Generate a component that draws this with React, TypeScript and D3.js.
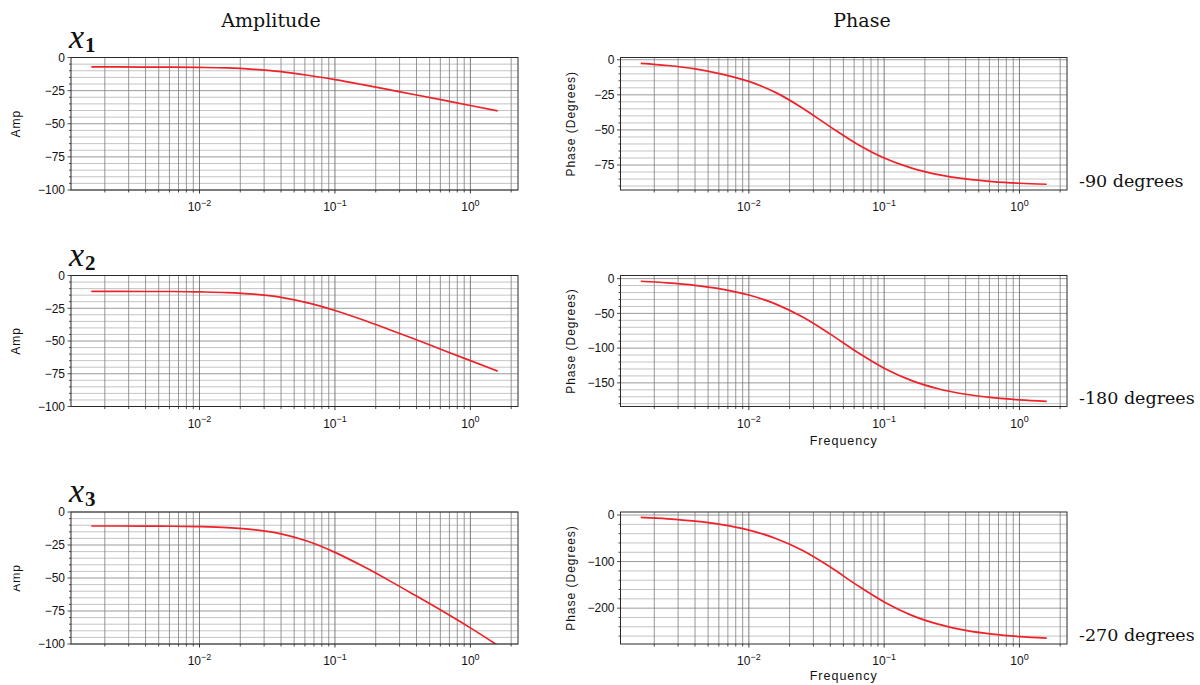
import React from "react";
import * as d3 from "d3";

// ---- data (frequency in Hz) ----
const FREQ = [0.00159, 0.0025, 0.004, 0.0063, 0.01, 0.016, 0.025, 0.04, 0.063, 0.1, 0.16, 0.25, 0.4, 0.63, 1.0, 1.59];

const AMP_X1 = [-7.1, -7.1, -7.2, -7.3, -7.5, -7.9, -8.9, -10.7, -13.4, -16.7, -20.5, -24.3, -28.3, -32.2, -36.2, -40.3];
const AMP_X2 = [-12.1, -12.1, -12.2, -12.2, -12.5, -13.0, -14.2, -16.7, -20.9, -26.7, -33.8, -41.2, -49.1, -57.0, -65.0, -73.0];
const AMP_X3 = [-10.6, -10.6, -10.7, -10.8, -11.1, -11.8, -13.3, -16.6, -22.2, -30.6, -41.0, -51.8, -63.7, -75.4, -87.8, -101.0];

const PHASE_X1 = [-2.6, -4.1, -6.5, -10.2, -15.4, -23.6, -34.5, -47.8, -60.0, -70.0, -77.2, -81.8, -84.9, -86.8, -88.0, -88.7];
const PHASE_X2 = [-3.8, -6.0, -9.6, -15.0, -23.6, -37.0, -55.3, -79.9, -105.7, -128.9, -146.8, -158.4, -166.4, -171.3, -174.5, -176.6];
const PHASE_X3 = [-5.2, -8.2, -13.1, -20.5, -32.3, -50.8, -76.3, -111.8, -150.6, -186.8, -215.5, -234.4, -247.6, -255.7, -261.0, -264.3];

const AMP_TICKS = [0, -25, -50, -75, -100];
const PHASE1_TICKS = [0, -25, -50, -75];
const PHASE2_TICKS = [0, -50, -100, -150];
const PHASE3_TICKS = [0, -100, -200];

const ROW_NAMES = ["1", "2", "3"];
const ROW_NOTES = ["-90 degrees", "-180 degrees", "-270 degrees"];

const SANS = "'Liberation Sans', Arial, Helvetica, sans-serif";
const SERIF = "'DejaVu Serif', 'Liberation Serif', serif";
const MATH = "'Liberation Serif', 'DejaVu Serif', serif";
const RED = "#ee2228";

const W = 1200;
const H = 685;

type PanelProps = {
  id: string;
  left: number;
  right: number;
  top: number;
  bottom: number;
  values: number[];
  yDomain: [number, number];
  ticks: number[];
  minorStep: number;
  yLabel: string;
  yLabelX: number;
  yLabelSize: number;
  xLabel?: string;
  clipLabel?: number;
};

function Panel(p: PanelProps) {
  const lmin = Math.log10(d3.min(FREQ) as number);
  const lmax = Math.log10(d3.max(FREQ) as number);
  const m = (lmax - lmin) * 0.05;
  const x = d3.scaleLog().domain([Math.pow(10, lmin - m), Math.pow(10, lmax + m)]).range([p.left, p.right]);
  const y = d3.scaleLinear().domain(p.yDomain).range([p.bottom, p.top]);
  const [x0, x1] = x.domain();

  const major: number[] = [];
  const minor: number[] = [];
  for (let e = -4; e <= 1; e++) {
    for (let k = 1; k <= 9; k++) {
      const v = k * Math.pow(10, e);
      if (v >= x0 && v <= x1) (k === 1 ? major : minor).push(v);
    }
  }
  const hLines: number[] = [];
  const [yd0, yd1] = p.yDomain;
  for (let v = Math.ceil(yd0 / p.minorStep) * p.minorStep; v <= yd1 + 1e-9; v += p.minorStep) hLines.push(v);
  const isMajorY = (v: number) => p.ticks.some((t) => Math.abs(t - v) < 1e-6);

  const line = d3
    .line<number>()
    .x((_, i) => x(FREQ[i]))
    .y((v) => y(v))
    .curve(d3.curveMonotoneX);

  const cy = (p.top + p.bottom) / 2;
  return (
    <g>
      <defs>
        <clipPath id={`clip-${p.id}`}>
          <rect x={p.left} y={p.top} width={p.right - p.left} height={p.bottom - p.top} />
        </clipPath>
        {p.clipLabel !== undefined && (
          <clipPath id={`lclip-${p.id}`}>
            <rect x={p.clipLabel} y={0} width={100} height={H} />
          </clipPath>
        )}
      </defs>
      {/* horizontal grid */}
      {hLines.map((v) => (
        <line
          key={`h${v}`}
          x1={p.left}
          x2={p.right}
          y1={y(v)}
          y2={y(v)}
          stroke={isMajorY(v) ? "#8e8e8e" : "#bdbdbd"}
          strokeWidth={0.9}
        />
      ))}
      {/* vertical grid */}
      {minor.map((v) => (
        <line key={`vm${v}`} x1={x(v)} x2={x(v)} y1={p.top} y2={p.bottom} stroke="#7c7c7c" strokeWidth={0.8} />
      ))}
      {major.map((v) => (
        <line key={`vM${v}`} x1={x(v)} x2={x(v)} y1={p.top} y2={p.bottom} stroke="#6e6e6e" strokeWidth={0.9} />
      ))}
      {/* curve */}
      <path d={line(p.values) || ""} fill="none" stroke={RED} strokeWidth={1.7} clipPath={`url(#clip-${p.id})`} />
      {/* frame */}
      <rect x={p.left} y={p.top} width={p.right - p.left} height={p.bottom - p.top} fill="none" stroke="#2a2a2a" strokeWidth={1} />
      {/* x ticks */}
      {minor.map((v) => (
        <line key={`tm${v}`} x1={x(v)} x2={x(v)} y1={p.bottom} y2={p.bottom + 2.5} stroke="#222" strokeWidth={0.8} />
      ))}
      {major.map((v) => (
        <g key={`tM${v}`}>
          <line x1={x(v)} x2={x(v)} y1={p.bottom} y2={p.bottom + 3.5} stroke="#222" strokeWidth={0.9} />
          <text x={x(v)} y={p.bottom + 21} fontFamily={SANS} fontSize={12} textAnchor="middle" fill="#111">
            10
            <tspan dy={-5.5} fontSize={9}>
              {Math.round(Math.log10(v)) === 0 ? "0" : "\u2212" + Math.abs(Math.round(Math.log10(v)))}
            </tspan>
          </text>
        </g>
      ))}
      {/* y ticks */}
      {hLines.map((v) => (
        <line
          key={`ty${v}`}
          x1={p.left - (isMajorY(v) ? 3.5 : 2)}
          x2={p.left}
          y1={y(v)}
          y2={y(v)}
          stroke="#222"
          strokeWidth={0.8}
        />
      ))}
      {p.ticks.map((t) => (
        <text
          key={`yl${t}`}
          x={p.left - 6}
          y={y(t)}
          dy="0.36em"
          fontFamily={SANS}
          fontSize={12}
          textAnchor="end"
          fill="#111"
        >
          {t === 0 ? "0" : "\u2212" + Math.abs(t)}
        </text>
      ))}
      {/* y label */}
      <g clipPath={p.clipLabel !== undefined ? `url(#lclip-${p.id})` : undefined}>
        <text
          transform={`translate(${p.yLabelX},${cy}) rotate(-90)`}
          fontFamily={SANS}
          fontSize={p.yLabelSize}
          letterSpacing={1}
          textAnchor="middle"
          fill="#111"
        >
          {p.yLabel}
        </text>
      </g>
      {p.xLabel && (
        <text
          x={(p.left + p.right) / 2}
          y={Math.min(p.bottom + 38, H - 5)}
          fontFamily={SANS}
          fontSize={12.5}
          letterSpacing={1}
          textAnchor="middle"
          fill="#111"
        >
          {p.xLabel}
        </text>
      )}
    </g>
  );
}

const ROWS = [
  { top: 57.5, bottom: 190 },
  { top: 275.5, bottom: 406.5 },
  { top: 512, bottom: 644 },
];
const LEFT_COL = { left: 71, right: 518 };
const RIGHT_COL = { left: 620.5, right: 1067 };

export default function App() {
  const amps = [AMP_X1, AMP_X2, AMP_X3];
  const phases = [PHASE_X1, PHASE_X2, PHASE_X3];
  const phaseDomains: [number, number][] = [
    [-92.8, 1.6],
    [-184, 4.5],
    [-277, 6.5],
  ];
  const phaseTicks = [PHASE1_TICKS, PHASE2_TICKS, PHASE3_TICKS];
  const phaseMinor = [5, 10, 20];

  return (
    <svg width={W} height={H} viewBox={`0 0 ${W} ${H}`} style={{ position: "absolute", left: 0, top: 0, background: "#fff" }}>
      <rect x={0} y={0} width={W} height={H} fill="#fff" />
      <text x={271} y={27} fontFamily={SERIF} fontSize={19} textAnchor="middle" fill="#111">
        Amplitude
      </text>
      <text x={862} y={27} fontFamily={SERIF} fontSize={19} textAnchor="middle" fill="#111">
        Phase
      </text>
      {ROWS.map((r, i) => (
        <g key={i}>
          <text x={69} y={r.top - 10} fontFamily={MATH} fill="#111">
            <tspan fontSize={34} fontStyle="italic">x</tspan>
            <tspan fontSize={21} dy={4} dx={1} fontWeight="bold">{ROW_NAMES[i]}</tspan>
          </text>
          <Panel
            id={`a${i}`}
            left={LEFT_COL.left}
            right={LEFT_COL.right}
            top={r.top}
            bottom={r.bottom}
            values={amps[i]}
            yDomain={[-100, 0]}
            ticks={AMP_TICKS}
            minorStep={5}
            yLabel="Amp"
            yLabelX={20}
            yLabelSize={12}
            clipLabel={i === 2 ? 13.5 : undefined}
          />
          <Panel
            id={`p${i}`}
            left={RIGHT_COL.left}
            right={RIGHT_COL.right}
            top={r.top}
            bottom={r.bottom}
            values={phases[i]}
            yDomain={phaseDomains[i]}
            ticks={phaseTicks[i]}
            minorStep={phaseMinor[i]}
            yLabel="Phase (Degrees)"
            yLabelX={575}
            yLabelSize={12}
            xLabel={i > 0 ? "Frequency" : undefined}
          />
          <text x={1079} y={r.bottom - 3} fontFamily={SERIF} fontSize={17.5} fill="#111">
            {ROW_NOTES[i]}
          </text>
        </g>
      ))}
    </svg>
  );
}
